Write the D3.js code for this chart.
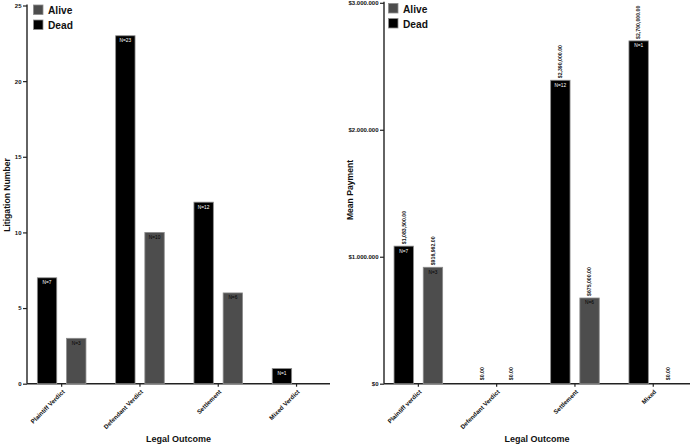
<!DOCTYPE html>
<html>
<head>
<meta charset="utf-8">
<script src="https://cdn.jsdelivr.net/npm/d3@7"></script>
<style>
  html, body { margin: 0; padding: 0; background: #fff; }
  svg { display: block; }
  svg text { font-family: "Liberation Sans", Arial, Helvetica, sans-serif; font-weight: bold; }
</style>
</head>
<body>
<svg id="chart" width="690" height="444"></svg>
<script>
// ---------- DATA ----------
const seriesNames = ["Alive", "Dead"];

const leftCategories = ["Plaintiff Verdict", "Defendant Verdict", "Settlement", "Mixed Verdict"];
const leftDead = [7, 23, 12, 1];
const leftAlive = [3, 10, 6, 0];
const leftTicks = [0, 5, 10, 15, 20, 25];

const rightCategories = ["Plaintiff verdict", "Defendant Verdict", "Settlement", "Mixed"];
const rightDead = [1083500, 0, 2390000, 2700000];
const rightAlive = [916962, 0, 675000, 0];
const rightDeadN = ["N=7", "", "N=12", "N=1"];
const rightAliveN = ["N=3", "", "N=6", ""];
const rightTicks = [0, 1000000, 2000000, 3000000];

// ---------- STYLE ----------
const colors = { Dead: "#000000", Alive: "#4d4d4d" };
const barStroke = "#8c8c8c";
const axisColor = "#222";

const svg = d3.select("#chart");

const euroLocale = d3.formatLocale({ decimal: ",", thousands: ".", grouping: [3], currency: ["$", ""] });
const tickMoney = euroLocale.format("$,.0f");
const valueMoney = d3.format("$,.2f");

function drawPanel(opts) {
  const g = svg.append("g");
  const y = d3.scaleLinear().domain([0, opts.yMax]).range([opts.y0, opts.y1]);
  const x = d3.scaleBand().domain(opts.categories).range(opts.xRange).paddingInner(0).paddingOuter(0);
  const sub = d3.scaleBand().domain(["Dead", "Alive"]).range([-24.3, 24.3]).paddingInner(0.336);

  // Y axis
  const yAxis = d3.axisLeft(y).tickValues(opts.ticks).tickFormat(opts.tickFormat).tickSize(4).tickSizeOuter(0);
  const ya = g.append("g").attr("transform", `translate(${opts.axisX},0)`).call(yAxis);
  ya.select(".domain").attr("stroke", axisColor).attr("stroke-width", 1.4)
    .attr("d", `M0,${opts.y0}V${opts.y1 - 1}`);
  ya.selectAll(".tick line").attr("stroke", axisColor).attr("stroke-width", 1.2);
  ya.selectAll(".tick text").attr("font-size", 6).attr("fill", "#111").attr("x", -5.5);

  // X axis
  const xAxis = d3.axisBottom(x).tickSize(3).tickSizeOuter(0);
  const xa = g.append("g").attr("transform", `translate(0,${opts.y0})`).call(xAxis);
  xa.select(".domain").attr("stroke", axisColor).attr("stroke-width", 1.4)
    .attr("d", `M${opts.axisX},0H${opts.axisEnd}`);
  xa.selectAll(".tick line").attr("stroke", axisColor).attr("stroke-width", 1.2);
  xa.selectAll(".tick text")
    .attr("font-size", 6.2).attr("fill", "#111")
    .attr("text-anchor", "end")
    .attr("y", 0).attr("dy", 0)
    .attr("transform", "translate(3.5,8.5) rotate(-45)");

  // Bars
  const rows = opts.categories.map((c, i) => ({ c, i }));
  const groups = g.append("g").selectAll("g").data(rows).join("g")
    .attr("transform", d => `translate(${x(d.c) + x.bandwidth() / 2},0)`);

  ["Dead", "Alive"].forEach(s => {
    const vals = s === "Dead" ? opts.dead : opts.alive;
    groups.filter(d => vals[d.i] > 0).append("rect")
      .attr("x", sub(s)).attr("width", sub.bandwidth())
      .attr("y", d => y(vals[d.i])).attr("height", d => y(0) - y(vals[d.i]))
      .attr("fill", colors[s]).attr("stroke", barStroke).attr("stroke-width", 0.8);
    // N labels
    const nl = s === "Dead" ? opts.deadN : opts.aliveN;
    groups.filter(d => nl[d.i]).append("text")
      .attr("x", sub(s) + sub.bandwidth() / 2)
      .attr("y", d => y(vals[d.i]) + 6.5)
      .attr("text-anchor", "middle").attr("font-size", 4.8)
      .style("font-weight", "normal")
      .attr("fill", s === "Dead" ? "#fff" : "#000")
      .text(d => nl[d.i]);
    // value labels
    if (opts.valueLabels) {
      groups.append("text")
        .attr("transform", d => `translate(${sub(s) + sub.bandwidth() / 2 + 1.8},${y(vals[d.i]) - (vals[d.i] > 0 ? 2 : 3.5)}) rotate(-90)`)
        .attr("text-anchor", "start").attr("font-size", 5.2).attr("fill", "#111")
        .text(d => valueMoney(vals[d.i]));
    }
  });

  // Y label
  g.append("text")
    .attr("transform", `translate(${opts.yLabelX},${opts.yLabelY}) rotate(-90)`)
    .attr("text-anchor", "middle").attr("font-size", 8.6).attr("fill", "#111")
    .text(opts.yLabel);

  // X label
  g.append("text")
    .attr("x", (opts.axisX + opts.axisEnd) / 2).attr("y", 441.5)
    .attr("text-anchor", "middle").attr("font-size", 9).attr("fill", "#111")
    .text("Legal Outcome");

  // Legend
  const lg = g.append("g").attr("transform", `translate(${opts.legendX},${opts.legendY})`);
  seriesNames.forEach((s, i) => {
    lg.append("rect").attr("x", 0).attr("y", i * 15).attr("width", 9.5).attr("height", 9.5)
      .attr("fill", colors[s]).attr("stroke", barStroke).attr("stroke-width", 0.8);
    lg.append("text").attr("x", 14.5).attr("y", i * 15 + 9).attr("font-size", 10.2).attr("fill", "#111")
      .text(s);
  });
}

// Left panel: litigation counts
drawPanel({
  categories: leftCategories,
  dead: leftDead, alive: leftAlive,
  deadN: leftDead.map(v => v > 0 ? "N=" + v : ""),
  aliveN: leftAlive.map(v => v > 0 ? "N=" + v : ""),
  yMax: 25, ticks: leftTicks, tickFormat: d3.format("d"),
  y0: 383.7, y1: 5.5,
  xRange: [22.5, 335.7],
  axisX: 27, axisEnd: 330,
  yLabel: "Litigation Number", yLabelX: 9.5, yLabelY: 195,
  legendX: 33.5, legendY: 5,
  valueLabels: false
});

// Right panel: mean payment
drawPanel({
  categories: rightCategories,
  dead: rightDead, alive: rightAlive,
  deadN: rightDeadN, aliveN: rightAliveN,
  yMax: 3000000, ticks: rightTicks, tickFormat: tickMoney,
  y0: 383.7, y1: 2.8,
  xRange: [379.2, 692.4],
  axisX: 384, axisEnd: 690,
  yLabel: "Mean Payment", yLabelX: 352.5, yLabelY: 190,
  legendX: 388.5, legendY: 3.5,
  valueLabels: true
});
</script>
</body>
</html>
